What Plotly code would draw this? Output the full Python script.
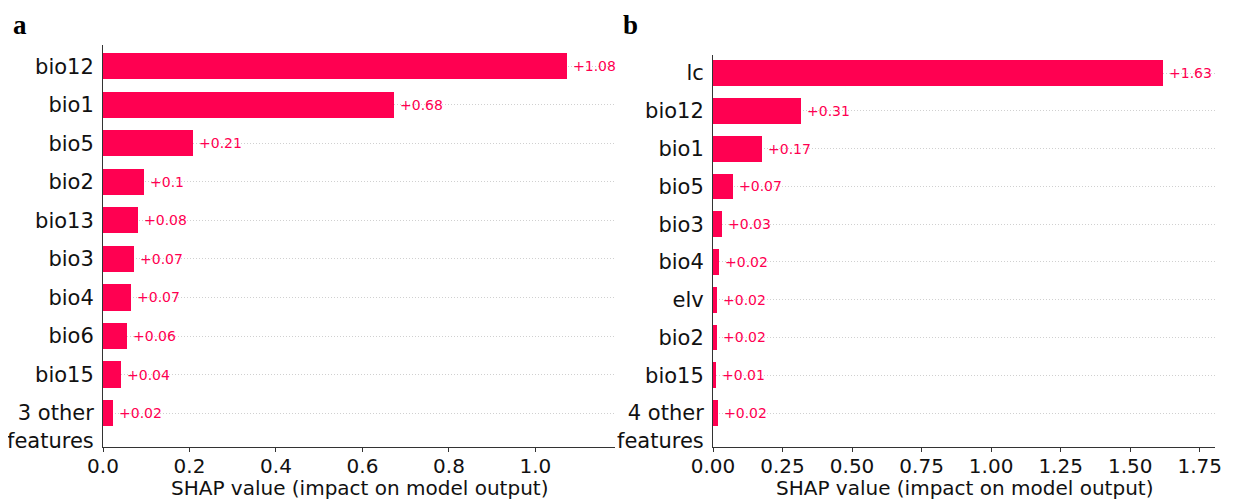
import plotly.graph_objects as go

# Panel a data
feat_a = ["bio12", "bio1", "bio5", "bio2", "bio13", "bio3", "bio4", "bio6", "bio15", "<br>3 other<br>features"]
vals_a = [1.073, 0.673, 0.208, 0.095, 0.081, 0.072, 0.065, 0.056, 0.042, 0.023]
lbls_a = ["+1.08", "+0.68", "+0.21", "+0.1", "+0.08", "+0.07", "+0.07", "+0.06", "+0.04", "+0.02"]

# Panel b data
feat_b = ["lc", "bio12", "bio1", "bio5", "bio3", "bio4", "elv", "bio2", "bio15", "<br>4 other<br>features"]
vals_b = [1.618, 0.316, 0.175, 0.072, 0.032, 0.022, 0.016, 0.015, 0.011, 0.018]
lbls_b = ["+1.63", "+0.31", "+0.17", "+0.07", "+0.03", "+0.02", "+0.02", "+0.02", "+0.01", "+0.02"]

xticks_a = [0.0, 0.2, 0.4, 0.6, 0.8, 1.0]
xticks_b = [0.0, 0.25, 0.5, 0.75, 1.0, 1.25, 1.5, 1.75]
xtitle = "SHAP value (impact on model output)"

RED = "#FF0051"
FONT = "DejaVu Sans"
OFF = 8  # page body margin
W, H = 1234 - OFF, 504 - OFF

def px(x):
    return (x - OFF) / W

def py(y):
    return 1 - (y - OFF) / H

fig = go.Figure()
annots = []

def add_bars(feats, vals, lbls, xa, ya):
    ys = list(range(len(feats)))
    fig.add_trace(go.Bar(
        x=vals, y=ys, orientation="h",
        marker=dict(color=RED, line=dict(width=0)),
        width=0.68, xaxis=xa, yaxis=ya, showlegend=False,
    ))
    for v, yy, t in zip(vals, ys, lbls):
        annots.append(dict(text=t, x=v, y=yy, xref=xa, yref=ya, xanchor="left",
                           yanchor="middle", xshift=4, showarrow=False,
                           font=dict(color=RED, size=14, family=FONT)))

add_bars(feat_a, vals_a, lbls_a, "x", "y")
add_bars(feat_b, vals_b, lbls_b, "x2", "y2")

def xax(dom, rng, ticks, fmt):
    return dict(domain=dom, range=rng, tickvals=ticks, tickformat=fmt, automargin=False,
                showgrid=False, zeroline=False, showline=True, linecolor="#333",
                linewidth=1, ticks="outside", ticklen=4, tickcolor="#333",
                ticklabelstandoff=-3,
                tickfont=dict(size=20, family=FONT, color="#111"))

def yax(dom, rng, feats, anchor):
    return dict(domain=dom, range=rng, tickvals=list(range(len(feats))), ticktext=feats,
                automargin=False,
                showgrid=True, gridcolor="#d0d0d0", griddash="1px,2px", gridwidth=1,
                zeroline=False, showline=True, linecolor="#333", linewidth=1,
                ticks="", ticklabelstandoff=4, anchor=anchor,
                tickfont=dict(size=21, family=FONT, color="#111"))

dom_xa = [px(103), px(615)]
dom_xb = [px(713), px(1215)]

annots += [
    dict(text="<b>a</b>", x=px(11), y=py(8), xref="paper", yref="paper",
         xanchor="left", yanchor="top", showarrow=False,
         font=dict(size=27, family="Liberation Serif", color="black")),
    dict(text="<b>b</b>", x=px(621), y=py(8), xref="paper", yref="paper",
         xanchor="left", yanchor="top", showarrow=False,
         font=dict(size=27, family="Liberation Serif", color="black")),
    dict(text=xtitle, x=sum(dom_xa) / 2, y=py(488), xref="paper", yref="paper",
         xanchor="center", yanchor="middle", showarrow=False,
         font=dict(size=20, family=FONT, color="#111")),
    dict(text=xtitle, x=sum(dom_xb) / 2, y=py(488), xref="paper", yref="paper",
         xanchor="center", yanchor="middle", showarrow=False,
         font=dict(size=20, family=FONT, color="#111")),
]

fig.update_layout(
    width=W, height=H, margin=dict(l=0, r=0, t=0, b=0),
    paper_bgcolor="white", plot_bgcolor="white",
    bargap=0,
    xaxis=dict(**xax(dom_xa, [0, 1.184], xticks_a, ".1f"), anchor="y"),
    yaxis=yax([py(447), py(45)], [9.88, -0.55], feat_a, "x"),
    xaxis2=dict(**xax(dom_xb, [0, 1.805], xticks_b, ".2f"), anchor="y2"),
    yaxis2=yax([py(447), py(55)], [9.9, -0.48], feat_b, "x2"),
    annotations=annots,
)

fig.write_html("out.html")
